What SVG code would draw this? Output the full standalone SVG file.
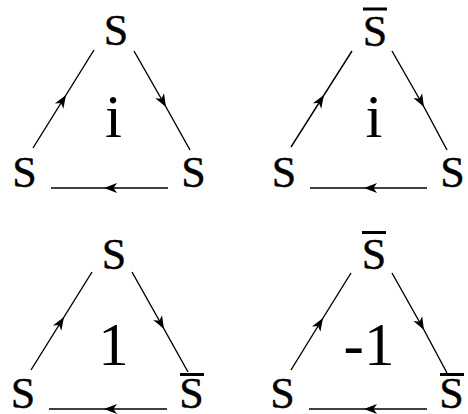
<svg xmlns="http://www.w3.org/2000/svg" width="468" height="414" viewBox="0 0 468 414">
<style>
.s{font-family:"Liberation Serif","DejaVu Serif",serif;font-size:44px;text-anchor:middle;fill:#000;stroke:#000;stroke-width:0.4}
.c{font-family:"Liberation Serif","DejaVu Serif",serif;font-size:61px;text-anchor:middle;fill:#000}
.e{fill:none;stroke:#000;stroke-width:1.4;marker-mid:url(#ah)}
.bar{fill:#000}
</style>
<defs>
<marker id="ah" markerUnits="userSpaceOnUse" markerWidth="16" markerHeight="14" viewBox="-14 -7 16 14" refX="0" refY="0" orient="auto" overflow="visible">
<path d="M0,0 L-13,-5 L-9.5,0 L-13,5 Z" fill="#000"/>
</marker>
</defs>
<rect width="468" height="414" fill="#fff"/>
<g id="connectors">
<path class="e" d="M33,148 L66,95 L94,50"/>
<path class="e" d="M134,51 L166,107 L190,150"/>
<path class="e" d="M168,188 L104,188 L51,188"/>
<path class="e" d="M291,147 L324,95 L352,51"/>
<path class="e" d="M392,51 L424,107 L447,150"/>
<path class="e" d="M427,188 L364,188 L310,188"/>
<path class="e" d="M31,370 L64,317 L92,272"/>
<path class="e" d="M132,272 L164,329 L188,372"/>
<path class="e" d="M167,409 L104,409 L49,409"/>
<path class="e" d="M291,370 L323,318 L351,273"/>
<path class="e" d="M392,273 L424,330 L447,373"/>
<path class="e" d="M427,409 L364,409 L309,409"/>
</g>
<g id="p1-top"><text class="s" x="116" y="45">S</text></g>
<g id="p1-left"><text class="s" x="24.5" y="187">S</text></g>
<g id="p1-right"><text class="s" x="193.5" y="187">S</text></g>
<g id="p1-center"><text class="c" x="113.5" y="137">i</text></g>
<g id="p2-top"><rect class="bar" x="363" y="7.5" width="24" height="3"/><text class="s" x="375" y="46">S</text></g>
<g id="p2-left"><text class="s" x="284" y="187">S</text></g>
<g id="p2-right"><text class="s" x="452.5" y="187">S</text></g>
<g id="p2-center"><text class="c" x="374" y="137">i</text></g>
<g id="p3-top"><text class="s" x="114" y="269">S</text></g>
<g id="p3-left"><text class="s" x="23" y="408">S</text></g>
<g id="p3-right"><rect class="bar" x="180" y="373" width="24" height="3"/><text class="s" x="191.5" y="408">S</text></g>
<g id="p3-center"><text class="c" x="113.5" y="365">1</text></g>
<g id="p4-top"><rect class="bar" x="362" y="231" width="24" height="3"/><text class="s" x="374" y="269">S</text></g>
<g id="p4-left"><text class="s" x="282.5" y="408">S</text></g>
<g id="p4-right"><rect class="bar" x="440" y="373" width="24" height="3"/><text class="s" x="451.5" y="408">S</text></g>
<g id="p4-center"><text class="c" x="369" y="365">-1</text></g>
</svg>
